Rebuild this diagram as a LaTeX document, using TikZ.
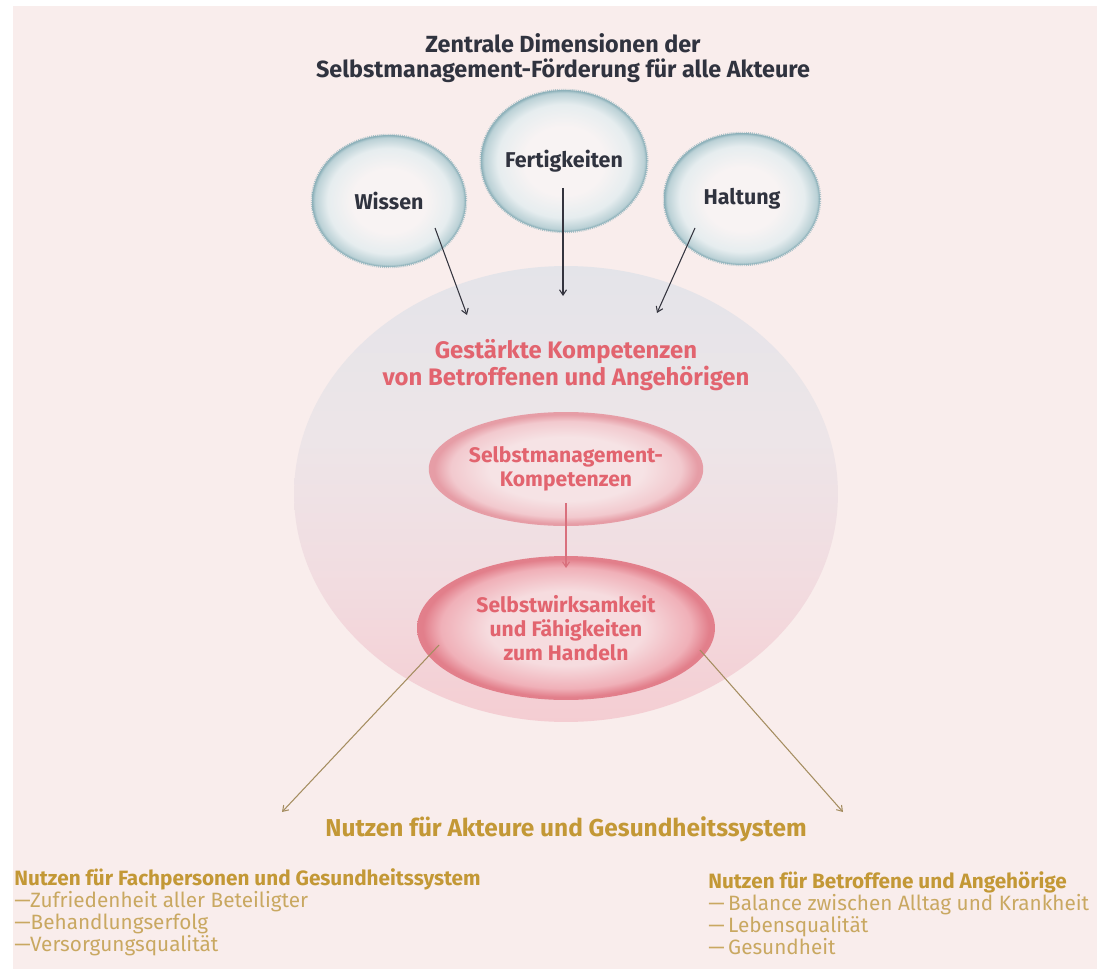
\documentclass[tikz,border=0pt]{standalone}
\usepackage{fontspec}
\setmainfont{Fira Sans}
\usetikzlibrary{shapes.geometric, arrows.meta, positioning}

\definecolor{bg}{HTML}{F9EDEC}
\definecolor{ink}{HTML}{30333F}
\definecolor{rose}{HTML}{E2646F}
\definecolor{gold}{HTML}{C39836}
\definecolor{goldlt}{HTML}{C9A861}
\definecolor{dimrim}{HTML}{8DB1BA}
\definecolor{dimc}{HTML}{F8F3F3}
\definecolor{dimm}{HTML}{E6EDEF}
\definecolor{dime}{HTML}{BBD1D6}
\definecolor{bigt}{HTML}{E4E4E9}
\definecolor{bigm}{HTML}{EDE5E8}
\definecolor{bigl}{HTML}{F2DCE0}
\definecolor{bigb}{HTML}{F4CDD2}
\definecolor{smc}{HTML}{F6E3E5}
\definecolor{smm}{HTML}{F2C9CE}
\definecolor{sme}{HTML}{E69DA6}
\definecolor{swc}{HTML}{F6DCDF}
\definecolor{swm}{HTML}{F0B0B8}
\definecolor{swe}{HTML}{E27F8B}
\definecolor{darr}{HTML}{34343E}
\definecolor{parr}{HTML}{D9707D}
\definecolor{garr}{HTML}{A58D60}

\pgfdeclareradialshading{bubble}{\pgfpoint{0bp}{0bp}}{color(0bp)=(dimc); color(12bp)=(dimc); color(20bp)=(dimm); color(24bp)=(dime); color(25bp)=(dimrim); color(50bp)=(dimrim)}
\pgfdeclareradialshading{smfill}{\pgfpoint{0bp}{0bp}}{color(0bp)=(smc); color(14bp)=(smc); color(21bp)=(smm); color(24bp)=(sme); color(25bp)=(sme); color(50bp)=(sme)}
\pgfdeclareradialshading{swfill}{\pgfpoint{0bp}{0bp}}{color(0bp)=(swc); color(13bp)=(swc); color(21bp)=(swm); color(24bp)=(swe); color(25bp)=(swe); color(50bp)=(swe)}
\pgfdeclareverticalshading{bigfade}{100bp}{color(0bp)=(bigb); color(25bp)=(bigb); color(40bp)=(bigl); color(56bp)=(bigm); color(75bp)=(bigt); color(100bp)=(bigt)}

\begin{document}
\begin{tikzpicture}[x=0.02cm, y=-0.02cm,
    dim/.style={ellipse, shading=bubble, draw=dimrim, draw opacity=0.7, line width=1.4pt,
      dash pattern=on 0.5pt off 0.6pt, inner sep=0pt, text=ink,
      font=\fontsize{12.2}{14}\selectfont\bfseries},
    core/.style={ellipse, inner sep=0pt, text=rose, align=center,
      font=\fontsize{12}{13.5}\selectfont\bfseries},
    darrow/.style={draw=darr, line width=0.6pt, -{Straight Barb[length=3pt,width=4pt]}},
    parrow/.style={draw=parr, line width=0.6pt, -{Straight Barb[length=3pt,width=4pt]}},
    garrow/.style={draw=garr, line width=0.6pt, -{Straight Barb[length=3pt,width=4pt]}},
    listbox/.style={align=left, anchor=west, inner sep=0pt, text=goldlt,
      font=\fontsize{11.8}{12.5}\selectfont}]
  \useasboundingbox (0,0) rectangle (1097,969);
  \fill[bg] (13,6) rectangle (1097,969);

  \node[align=center, text=ink, font=\fontsize{13.3}{14}\selectfont\bfseries] (title) at (563,58)
    {Zentrale Dimensionen der\\Selbstmanagement-Förderung für alle Akteure};

  \node[ellipse, shading=bigfade, minimum width=10.88cm, minimum height=9.12cm] (kompetenz) at (566,494) {};
  \node[dim, minimum width=3.08cm, minimum height=2.64cm] (wissen) at (389,201) {Wissen};
  \node[dim, minimum width=3.08cm, minimum height=2.84cm] (fertig) at (564,161) {Fertigkeiten};
  \node[dim, minimum width=3.12cm, minimum height=2.64cm] (haltung) at (742,199) {Haltung};

  \node[align=center, text=rose, font=\fontsize{13.6}{13.6}\selectfont\bfseries] (gestaerkt) at (566,365)
    {Gestärkte Kompetenzen\\von Betroffenen und Angehörigen};
  \node[core, shading=smfill, minimum width=5.12cm, minimum height=2.28cm] (smk) at (566,469)
    {Selbstmanagement-\\Kompetenzen};
  \node[core, shading=swfill, minimum width=5.96cm, minimum height=2.88cm] (swk) at (566,628)
    {Selbstwirksamkeit\\und Fähigkeiten\\zum Handeln};

  \node[text=gold, font=\fontsize{13.9}{15}\selectfont\bfseries] (nutzen) at (566,829)
    {Nutzen für Akteure und Gesundheitssystem};
  \node[listbox] (fach) at (14,912)
    {{\color{gold}\bfseries Nutzen für Fachpersonen und Gesundheitssystem}\\—Zufriedenheit aller Beteiligter\\—Behandlungserfolg\\—Versorgungsqualität};
  \node[listbox] (betr) at (708,913)
    {{\color{gold}\bfseries Nutzen für Betroffene und Angehörige}\\—\,Balance zwischen Alltag und Krankheit\\—\,Lebensqualität\\—\,Gesundheit};

  \draw[darrow] ([shift={(46,27)}]wissen.center) -- ([shift={(-99,-179)}]kompetenz.center);
  \draw[darrow] ([shift={(-1,27)}]fertig.center) -- ([shift={(-3,-198)}]kompetenz.center);
  \draw[darrow] ([shift={(-47,29)}]haltung.center) -- ([shift={(91,-181)}]kompetenz.center);
  \draw[parrow] ([shift={(0,34)}]smk.center) -- ([shift={(0,-60)}]swk.center);
  \draw[garrow] ([shift={(-127,17)}]swk.center) -- ([shift={(-284,-17)}]nutzen.center);
  \draw[garrow] ([shift={(134,22)}]swk.center) -- ([shift={(277,-17)}]nutzen.center);
\end{tikzpicture}
\end{document}
